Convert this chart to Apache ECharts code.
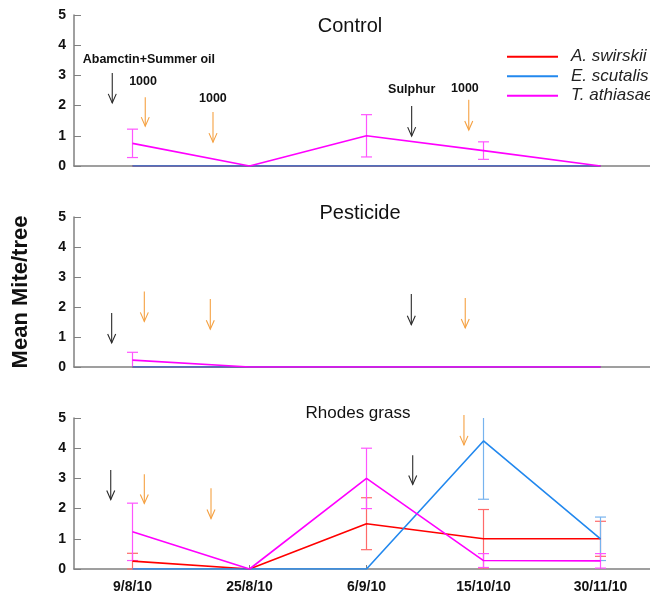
<!DOCTYPE html>
<html>
<head>
<meta charset="utf-8">
<script src="https://cdn.jsdelivr.net/npm/echarts@6/dist/echarts.min.js"></script>
<style>html,body{margin:0;padding:0;background:#fff}#c{width:650px;height:598px}</style>
</head>
<body>
<div id="c"></div>
<script>
// ---------- data ----------
const categories = ['9/8/10', '25/8/10', '6/9/10', '15/10/10', '30/11/10'];
const yTickLabels = ['0', '1', '2', '3', '4', '5'];
const speciesNames = ['A. swirskii', 'E. scutalis', 'T. athiasae'];
const panelTitles = ['Control', 'Pesticide', 'Rhodes grass'];

const controlSwirskii = [0, 0, 0, 0, 0];
const controlSwirskiiErr = [0, 0, 0, 0, 0];
const controlScutalis = [0, 0, 0, 0, 0];
const controlScutalisErr = [0, 0, 0, 0, 0];
const controlAthiasae = [0.75, 0, 1.0, 0.51, 0];
const controlAthiasaeErr = [0.47, 0, 0.70, 0.29, 0];

const pesticideSwirskii = [0, 0, 0, 0, 0];
const pesticideSwirskiiErr = [0, 0, 0, 0, 0];
const pesticideScutalis = [0, 0, 0, 0, 0];
const pesticideScutalisErr = [0, 0, 0, 0, 0];
const pesticideAthiasae = [0.23, 0, 0, 0, 0];
const pesticideAthiasaeErr = [0.26, 0, 0, 0, 0];

const rhodesSwirskii = [0.26, 0, 1.5, 1.0, 1.0];
const rhodesSwirskiiErr = [0.26, 0, 0.86, 0.97, 0.58];
const rhodesScutalis = [0, 0, 0, 4.24, 1.0];
const rhodesScutalisErr = [0, 0, 0, 1.93, 0.72];
const rhodesAthiasae = [1.23, 0, 3.0, 0.28, 0.27];
const rhodesAthiasaeErr = [0.95, 0, 1.0, 0.23, 0.24];

// annotation arrows: [category position, y start, y end, kind]
const controlArrows = [[-0.173, 3.08, 2.09, 'k'], [0.109, 2.28, 1.32, 'o'], [0.688, 1.79, 0.79, 'o'], [2.386, 1.99, 0.99, 'k'], [2.874, 2.19, 1.19, 'o']];
const pesticideArrows = [[-0.178, 1.80, 0.80, 'k'], [0.101, 2.52, 1.52, 'o'], [0.665, 2.27, 1.26, 'o'], [2.383, 2.43, 1.41, 'k'], [2.844, 2.30, 1.30, 'o']];
const rhodesArrows = [[-0.186, 3.28, 2.30, 'k'], [0.101, 3.14, 2.17, 'o'], [0.671, 2.67, 1.67, 'o'], [2.395, 3.77, 2.80, 'k'], [2.833, 5.10, 4.11, 'o']];
// annotation labels (control panel): [text, category position, y]
const controlLabels = [['Abamctin+Summer oil', 0.14, 3.54], ['1000', 0.09, 2.78], ['1000', 0.687, 2.25], ['Sulphur', 2.386, 2.52], ['1000', 2.841, 2.55]];

// ---------- layout / style ----------
const FONT = '"Liberation Sans", Arial, Helvetica, sans-serif';
const lineColors = ['#ff0000', '#2288ee', '#ff00ff'];
const errColors = ['#ff6a6a', '#77b3ee', '#ff55ff'];
const GRID_LEFT = 74, GRID_W = 585;
const grids = [{top: 15, height: 151}, {top: 217, height: 150}, {top: 418, height: 151}];
const YMAX = 5;

const panels = [
  {vals: [controlSwirskii, controlScutalis, controlAthiasae], errs: [controlSwirskiiErr, controlScutalisErr, controlAthiasaeErr], arrows: controlArrows},
  {vals: [pesticideSwirskii, pesticideScutalis, pesticideAthiasae], errs: [pesticideSwirskiiErr, pesticideScutalisErr, pesticideAthiasaeErr], arrows: pesticideArrows},
  {vals: [rhodesSwirskii, rhodesScutalis, rhodesAthiasae], errs: [rhodesSwirskiiErr, rhodesScutalisErr, rhodesAthiasaeErr], arrows: rhodesArrows}
];

function errRender(color) {
  return function (params, api) {
    const idx = api.value(0), v = api.value(1), e = api.value(2);
    if (!e) return;
    const lo = v - e, hi = v + e;
    const pHi = api.coord([idx, Math.min(hi, YMAX)]);
    const pLo = api.coord([idx, Math.max(lo, 0)]);
    const cw = 5.5;
    const st = {stroke: color, lineWidth: 1.2};
    const ch = [{type: 'line', shape: {x1: pHi[0], y1: pHi[1], x2: pLo[0], y2: pLo[1]}, style: st}];
    if (hi <= YMAX) ch.push({type: 'line', shape: {x1: pHi[0] - cw, y1: pHi[1], x2: pHi[0] + cw, y2: pHi[1]}, style: st});
    if (lo >= -1e-9) ch.push({type: 'line', shape: {x1: pLo[0] - cw, y1: pLo[1], x2: pLo[0] + cw, y2: pLo[1]}, style: st});
    return {type: 'group', children: ch};
  };
}

const gridOpt = [], xAxes = [], yAxes = [], series = [], titles = [], graphics = [];
const titleSpec = [{x: 350, y: 16, size: 20}, {x: 360, y: 203, size: 20}, {x: 358, y: 405, size: 17}];

panels.forEach((p, g) => {
  gridOpt.push({left: GRID_LEFT, top: grids[g].top, width: GRID_W, height: grids[g].height, containLabel: false, outerBoundsMode: 'none'});
  xAxes.push({
    type: 'category', gridIndex: g, data: categories, boundaryGap: true,
    axisLine: {lineStyle: {color: '#808080', width: 1.5}},
    axisTick: {show: g === 2, inside: true, alignWithLabel: true, length: 4, lineStyle: {color: '#808080'}},
    axisLabel: {show: g === 2, fontFamily: FONT, fontWeight: 'bold', fontSize: 14, color: '#111', margin: 11},
    splitLine: {show: false}
  });
  yAxes.push({
    type: 'value', gridIndex: g, min: 0, max: YMAX, interval: 1,
    name: g === 1 ? 'Mean Mite/tree' : '', nameLocation: 'middle', nameGap: 42,
    nameTextStyle: {fontFamily: FONT, fontWeight: 'bold', fontSize: 22, color: '#111'},
    axisLine: {show: true, lineStyle: {color: '#808080', width: 1.5}},
    axisTick: {show: true, inside: true, length: 7, lineStyle: {color: '#808080'}},
    axisLabel: {fontFamily: FONT, fontWeight: 'bold', fontSize: 14, color: '#111', margin: 8, formatter: (v) => yTickLabels[v]},
    splitLine: {show: false}
  });
  titles.push({text: panelTitles[g], left: titleSpec[g].x, top: titleSpec[g].y, textAlign: 'center', padding: 0,
    textStyle: {fontFamily: FONT, fontWeight: 'normal', fontSize: titleSpec[g].size, color: '#111'}});
  p.vals.forEach((vals, s) => {
    series.push({
      type: 'line', name: speciesNames[s], xAxisIndex: g, yAxisIndex: g,
      data: vals, symbol: 'none', z: 3 + s,
      lineStyle: {color: lineColors[s], width: 1.6}, itemStyle: {color: lineColors[s]},
      emphasis: {disabled: true}, animation: false
    });
  });
  p.vals.forEach((vals, s) => {
    series.push({
      type: 'custom', name: 'err' + g + s, xAxisIndex: g, yAxisIndex: g,
      data: vals.map((v, i) => [i, v, p.errs[s][i]]),
      encode: {x: 0, y: 1}, renderItem: errRender(errColors[s]), z: 2, animation: false
    });
  });
});

function px(g, c, v) {
  const band = GRID_W / categories.length;
  return [GRID_LEFT + (c + 0.5) * band, grids[g].top + grids[g].height * (1 - v / YMAX)];
}

panels.forEach((p, g) => {
  p.arrows.forEach(a => {
    const s = px(g, a[0], a[1]), e = px(g, a[0], a[2]);
    const col = a[3] === 'k' ? '#2a2a2a' : '#f5a142';
    graphics.push({type: 'line', shape: {x1: s[0], y1: s[1], x2: e[0], y2: e[1]}, style: {stroke: col, lineWidth: 1.1}, z: 10});
    graphics.push({type: 'polyline', shape: {points: [[e[0] - 4, e[1] - 9], [e[0], e[1]], [e[0] + 4, e[1] - 9]]}, style: {stroke: col, lineWidth: 1.1, fill: null}, z: 10});
  });
});
controlLabels.forEach(l => {
  const pt = px(0, l[1], l[2]);
  graphics.push({type: 'text', x: pt[0], y: pt[1], z: 10, style: {text: l[0], fill: '#111', font: 'bold 12.5px ' + FONT, align: 'center', verticalAlign: 'middle'}});
});

const chart = echarts.init(document.getElementById('c'));
chart.setOption({
  animation: false,
  backgroundColor: '#fff',
  title: titles,
  legend: {
    data: speciesNames, orient: 'vertical', left: 502, top: 42, icon: 'rect',
    itemWidth: 51, itemHeight: 2, itemGap: 0, selectedMode: false,
    textStyle: {fontFamily: FONT, fontStyle: 'italic', fontSize: 17, color: '#222', lineHeight: 19.5, padding: [0, 0, 0, 8]}
  },
  grid: gridOpt,
  xAxis: xAxes,
  yAxis: yAxes,
  series: series,
  graphic: graphics
});
</script>
</body>
</html>
